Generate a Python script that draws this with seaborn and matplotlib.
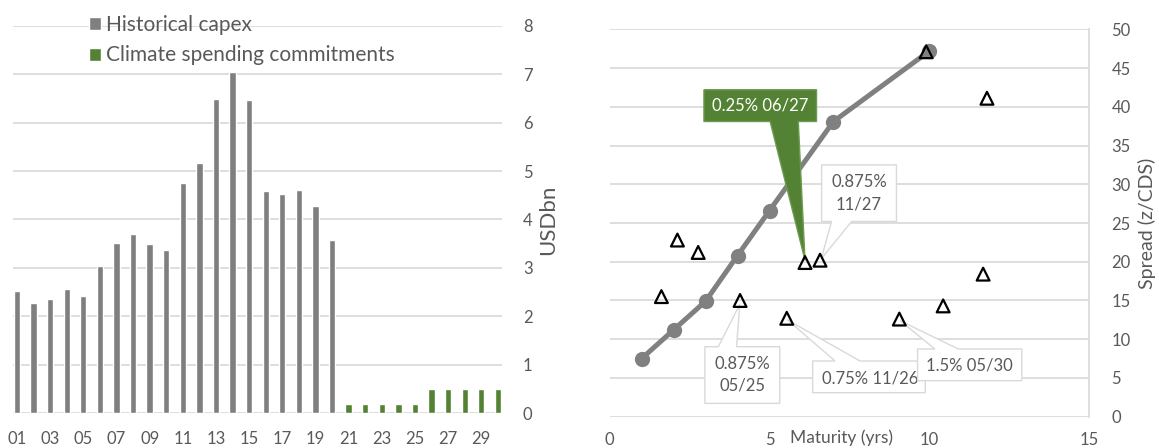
import numpy as np
import pandas as pd
import matplotlib
matplotlib.use("Agg")
import matplotlib.pyplot as plt
import seaborn as sns
from matplotlib.patches import Polygon
from matplotlib import transforms

# ---------------- data ----------------
years = ["01", "02", "03", "04", "05", "06", "07", "08", "09", "10",
         "11", "12", "13", "14", "15", "16", "17", "18", "19", "20",
         "21", "22", "23", "24", "25", "26", "27", "28", "29", "30"]
hist_capex = [2.52, 2.28, 2.35, 2.56, 2.43, 3.04, 3.51, 3.71, 3.49, 3.38,
              4.75, 5.17, 6.48, 7.04, 6.46, 4.59, 4.52, 4.60, 4.28, 3.58]
climate_commit = [0.2, 0.2, 0.2, 0.2, 0.2, 0.5, 0.5, 0.5, 0.5, 0.5]
series_names = ["Historical capex", "Climate spending commitments"]

curve_maturity = [1, 2, 3, 4, 5, 7, 10]
curve_spread = [7.5, 11.2, 14.9, 20.8, 26.6, 38.1, 47.2]

bond_maturity = [1.62, 2.12, 2.77, 4.08, 5.54, 6.11, 6.58, 9.06, 9.9, 10.43, 11.68, 11.8]
bond_spread = [15.5, 22.8, 21.2, 15.0, 12.7, 19.9, 20.2, 12.6, 47.1, 14.3, 18.4, 41.1]

callout_labels = ["0.25% 06/27", "0.875%\n11/27", "0.875%\n05/25", "0.75% 11/26", "1.5% 05/30"]

left_yticks = [0, 1, 2, 3, 4, 5, 6, 7, 8]
right_xticks = [0, 5, 10, 15]
right_yticks = [0, 5, 10, 15, 20, 25, 30, 35, 40, 45, 50]

# ---------------- style ----------------
sns.set_style("white")
plt.rcParams["font.family"] = ["Lato", "DejaVu Sans"]
TXT = "#595959"
GRID = "#d9d9d9"
GRAY = "#7f7f7f"
GREEN = "#548235"

W, H = 1159, 448
fig = plt.figure(figsize=(W / 100, H / 100), dpi=100)

def px_axes(x0, y0, x1, y1):
    return fig.add_axes([x0 / W, 1 - y1 / H, (x1 - x0) / W, (y1 - y0) / H])

# ---------------- left: bar chart ----------------
ax1 = px_axes(13, 25.7, 502, 413.3)
df = pd.DataFrame({
    "year": years,
    "value": hist_capex + climate_commit,
    "series": [series_names[0]] * len(hist_capex) + [series_names[1]] * len(climate_commit),
})
sns.barplot(data=df, x="year", y="value", hue="series", order=years,
            palette=[GRAY, GREEN], dodge=False, width=0.38, saturation=1,
            ax=ax1, zorder=3)
ax1.set_xlim(-0.24, 29.25)
ax1.set_ylim(0, 8)
ax1.set_yticks(left_yticks)
ax1.yaxis.tick_right()
ax1.set_xticks(range(len(years)))
ax1.set_xticklabels([y if i % 2 == 0 else "" for i, y in enumerate(years)])
ax1.tick_params(axis="both", length=0, labelsize=12, colors=TXT)
ax1.tick_params(axis="x", pad=13)
ax1.tick_params(axis="y", pad=15)
ax1.grid(axis="y", color=GRID, lw=1.25, zorder=0)
ax1.set_axisbelow(True)
for s in ax1.spines.values():
    s.set_visible(False)
ax1.set_xlabel("")
ax1.set_ylabel("USDbn", fontsize=16, color=TXT)
ax1.yaxis.set_label_position("right")
ax1.yaxis.set_label_coords((548 - 13) / (502 - 13), 0.5)
ax1.yaxis.label.set_va("center")
h, l = ax1.get_legend_handles_labels()
ax1.legend(h, l, loc="upper left", bbox_to_anchor=(89 / W, 1 - 15 / H),
           bbox_transform=fig.transFigure, frameon=False, fontsize=15,
           labelcolor=TXT, handlelength=0.58, handleheight=0.58,
           handletextpad=0.25, labelspacing=0.5, borderpad=0, borderaxespad=0)

# ---------------- right: spread chart ----------------
ax2 = px_axes(609.6, 29.3, 1089.3, 416.7)
sns.lineplot(x=curve_maturity, y=curve_spread, ax=ax2, color="#808080", lw=3.6,
             marker="o", markersize=11, markeredgewidth=0, zorder=3)
ax2.set_xlim(0, 15)
ax2.set_ylim(0, 50)
ax2.set_xticks(right_xticks)
ax2.set_yticks(right_yticks)
ax2.yaxis.tick_right()
ax2.tick_params(axis="both", length=0, labelsize=12, colors=TXT)
ax2.tick_params(axis="x", pad=11)
ax2.tick_params(axis="y", pad=16)
ax2.grid(axis="y", color=GRID, lw=1.25, zorder=0)
ax2.set_axisbelow(True)
for k, s in ax2.spines.items():
    s.set_visible(k == "right")
ax2.spines["right"].set_color(GRID)
ax2.spines["right"].set_linewidth(1.25)
ax2.set_ylabel("Spread (z/CDS)", fontsize=14, color=TXT)
ax2.yaxis.set_label_position("right")
ax2.yaxis.set_label_coords((1147 - 609.6) / (1089.3 - 609.6), 0.5)
ax2.yaxis.label.set_va("center")
trans = transforms.blended_transform_factory(ax2.transData, ax2.transAxes)
ax2.text(7.26, -0.055, "Maturity (yrs)", transform=trans, ha="center", va="center",
         fontsize=12.5, color=TXT, clip_on=False)

# callouts (drawn under the triangles)
def callout(poly, fc, ec, z):
    ax2.add_patch(Polygon(poly, closed=True, facecolor=fc, edgecolor=ec, lw=1.0, zorder=z))

# green 0.25% 06/27
x0, x1, yb, yt = 2.95, 6.47, 38.1, 42.2
callout([(x0, yt), (x1, yt), (x1, yb), (5.90, yb), (6.11, 20.2), (5.02, yb), (x0, yb)],
        GREEN, "#6d9a4f", 4)
ax2.text((x0 + x1) / 2, (yb + yt) / 2, callout_labels[0], ha="center", va="center",
         fontsize=12, color="white", zorder=5)

# 0.875% 11/27
x0, x1, yb, yt = 6.63, 8.97, 25.2, 32.5
callout([(x0, yt), (x1, yt), (x1, yb), (7.57, yb), (6.62, 20.4), (6.94, yb), (x0, yb)],
        "white", GRID, 4)
ax2.text((x0 + x1) / 2, (yb + yt) / 2, callout_labels[1], ha="center", va="center",
         fontsize=12, color=TXT, linespacing=1.45, zorder=5)

# 0.875% 05/25
x0, x1, yb, yt = 2.98, 5.32, 1.72, 9.03
callout([(x0, yb), (x0, yt), (3.40, yt), (4.07, 14.5), (3.97, yt), (x1, yt), (x1, yb)],
        "white", GRID, 4)
ax2.text((x0 + x1) / 2, (yb + yt) / 2, callout_labels[2], ha="center", va="center",
         fontsize=12, color=TXT, linespacing=1.45, zorder=5)

# 0.75% 11/26
x0, x1, yb, yt = 6.35, 9.87, 3.1, 7.19
callout([(x0, yb), (x0, yt), (7.05, yt), (5.56, 12.5), (7.83, yt), (x1, yt), (x1, yb)],
        "white", GRID, 4)
ax2.text(6.63, 4.96, callout_labels[3], ha="left", va="center",
         fontsize=12, color=TXT, zorder=5)

# 1.5% 05/30
x0, x1, yb, yt = 9.63, 12.89, 4.65, 8.74
callout([(x0, yb), (x0, yt), (10.17, yt), (9.08, 12.4), (10.9, yt), (x1, yt), (x1, yb)],
        "white", GRID, 6)
ax2.text((x0 + x1) / 2, 6.6, callout_labels[4], ha="center", va="center",
         fontsize=12, color=TXT, zorder=7)

sns.scatterplot(x=bond_maturity, y=bond_spread, ax=ax2, marker="^", s=85,
                facecolor="none", edgecolor="black", linewidth=1.6, zorder=8)

fig.savefig("out.png", dpi=100)
